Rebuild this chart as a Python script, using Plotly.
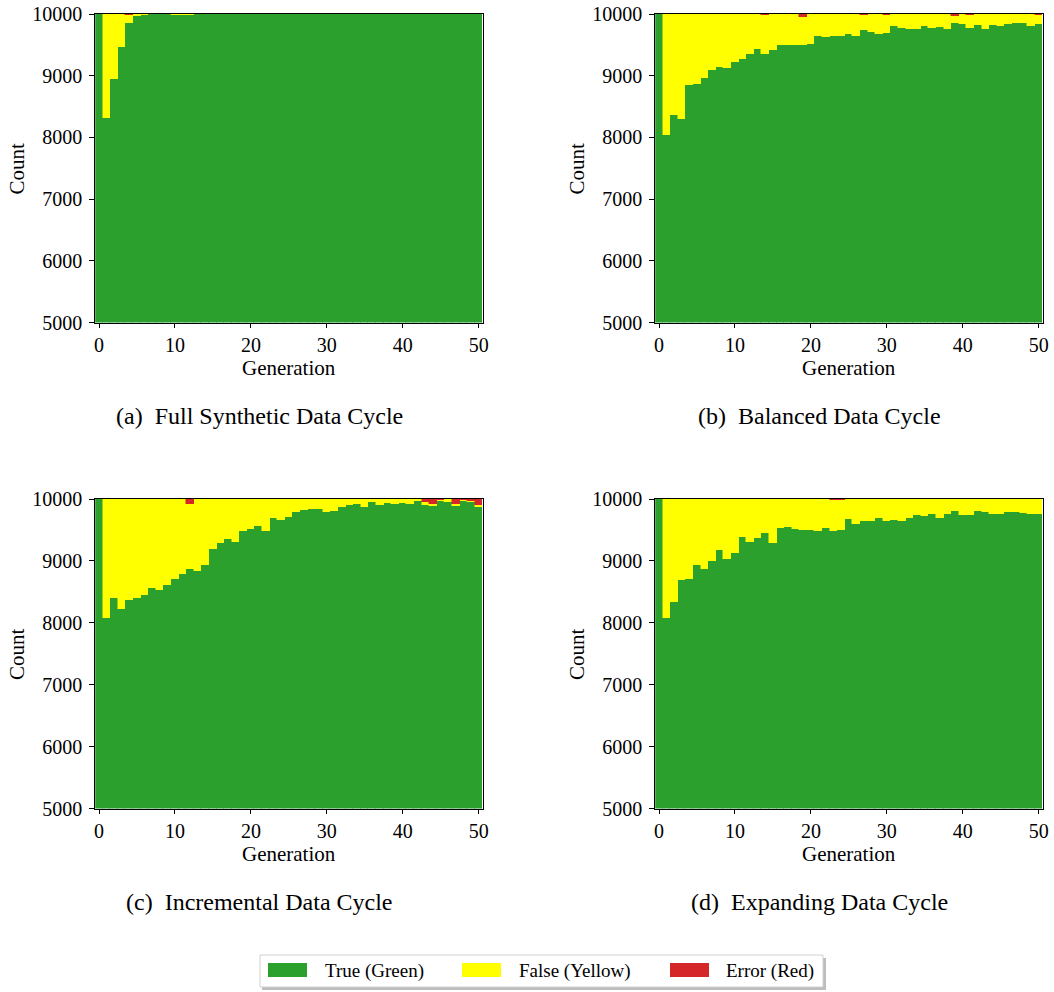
import plotly.graph_objects as go

generations = list(range(51))

# (a) Full Synthetic Data Cycle
a_true = [10000, 8320, 8950, 9465, 9855, 9970, 9985, 10000, 10000, 10000, 9986, 9986, 9986,
          10000, 10000, 10000, 10000, 10000, 10000, 10000, 10000, 10000, 10000, 10000, 10000,
          10000, 10000, 10000, 10000, 10000, 10000, 10000, 10000, 10000, 10000, 10000, 10000,
          10000, 10000, 10000, 10000, 10000, 10000, 10000, 10000, 10000, 10000, 10000, 10000,
          10000, 10000]
a_false = [0, 1680, 1050, 535, 125, 30, 10, 0, 0, 0, 8, 8, 8,
           0, 0, 0, 0, 0, 0, 0, 0, 0, 0, 0, 0, 0, 0, 0, 0, 0, 0, 0, 0, 0, 0, 0, 0, 0, 0,
           0, 0, 0, 0, 0, 0, 0, 0, 0, 0, 0, 0]
a_error = [0, 0, 0, 0, 20, 0, 5, 0, 0, 0, 6, 6, 6,
           0, 0, 0, 0, 0, 0, 0, 0, 0, 0, 0, 0, 0, 0, 0, 0, 0, 0, 0, 0, 0, 0, 0, 0, 0, 0,
           0, 0, 0, 0, 0, 0, 0, 0, 0, 0, 0, 0]

# (b) Balanced Data Cycle
b_true = [10000, 8047, 8370, 8305, 8854, 8870, 8967, 9096, 9145, 9128, 9225, 9274, 9354,
          9435, 9354, 9419, 9500, 9500, 9500, 9500, 9516, 9645, 9629, 9645, 9645, 9677,
          9645, 9742, 9710, 9677, 9693, 9806, 9774, 9758, 9758, 9806, 9774, 9790, 9758,
          9855, 9839, 9774, 9822, 9758, 9822, 9806, 9839, 9855, 9855, 9806, 9839]
b_false = [0, 1953, 1630, 1695, 1146, 1130, 1033, 904, 855, 872, 775, 726, 646,
           565, 631, 581, 500, 500, 500, 455, 484, 355, 371, 355, 355, 323,
           355, 243, 290, 323, 292, 194, 226, 242, 242, 194, 226, 210, 242,
           110, 161, 206, 178, 242, 178, 194, 161, 145, 145, 194, 146]
b_error = [0, 0, 0, 0, 0, 0, 0, 0, 0, 0, 0, 0, 0,
           0, 15, 0, 0, 0, 0, 45, 0, 0, 0, 0, 0, 0,
           0, 15, 0, 0, 15, 0, 0, 0, 0, 0, 0, 0, 0,
           35, 0, 20, 0, 0, 0, 0, 0, 0, 0, 0, 15]

# (c) Incremental Data Cycle
c_true = [10000, 8074, 8395, 8218, 8363, 8395, 8443, 8555, 8523, 8604, 8700, 8796, 8877,
          8844, 8941, 9198, 9294, 9358, 9310, 9486, 9518, 9567, 9486, 9695, 9663, 9711,
          9791, 9823, 9839, 9839, 9791, 9807, 9872, 9904, 9920, 9872, 9952, 9904, 9936,
          9920, 9936, 9920, 9968, 9904, 9888, 9968, 9952, 9888, 9968, 9952, 9872]
c_false = [0, 1926, 1605, 1782, 1637, 1605, 1557, 1445, 1477, 1396, 1300, 1204, 1043,
           1156, 1059, 802, 706, 642, 690, 514, 482, 433, 514, 305, 337, 289,
           209, 177, 161, 161, 209, 193, 128, 96, 80, 128, 48, 96, 64,
           80, 64, 80, 32, 46, 32, 22, 48, 32, 22, 18, 33]
c_error = [0, 0, 0, 0, 0, 0, 0, 0, 0, 0, 0, 0, 80,
           0, 0, 0, 0, 0, 0, 0, 0, 0, 0, 0, 0, 0,
           0, 0, 0, 0, 0, 0, 0, 0, 0, 0, 0, 0, 0,
           0, 0, 0, 0, 50, 80, 10, 0, 80, 10, 30, 95]

# (d) Expanding Data Cycle
d_true = [10000, 8074, 8331, 8684, 8700, 8941, 8877, 9005, 9181, 9037, 9133, 9390, 9310,
          9374, 9454, 9294, 9535, 9551, 9518, 9502, 9502, 9486, 9535, 9486, 9502, 9679,
          9599, 9647, 9647, 9695, 9647, 9663, 9647, 9695, 9743, 9727, 9759, 9695, 9759,
          9807, 9743, 9743, 9807, 9791, 9759, 9759, 9791, 9791, 9775, 9759, 9759]
d_false = [0, 1926, 1669, 1316, 1300, 1059, 1123, 995, 819, 963, 867, 610, 690,
           626, 546, 706, 465, 449, 482, 498, 498, 514, 465, 499, 483, 321,
           401, 353, 353, 305, 353, 337, 353, 305, 257, 273, 241, 305, 241,
           193, 257, 257, 193, 209, 241, 241, 209, 209, 225, 241, 241]
d_error = [0, 0, 0, 0, 0, 0, 0, 0, 0, 0, 0, 0, 0,
           0, 0, 0, 0, 0, 0, 0, 0, 0, 0, 15, 15, 0,
           0, 0, 0, 0, 0, 0, 0, 0, 0, 0, 0, 0, 0,
           0, 0, 0, 0, 0, 0, 0, 0, 0, 0, 0, 0]

captions = ["(a)  Full Synthetic Data Cycle", "(b)  Balanced Data Cycle",
            "(c)  Incremental Data Cycle", "(d)  Expanding Data Cycle"]
series_names = ["True (Green)", "False (Yellow)", "Error (Red)"]
colors = ["#2ca02c", "#ffff00", "#d62728"]
y_ticks = [5000, 6000, 7000, 8000, 9000, 10000]
x_ticks = [0, 10, 20, 30, 40, 50]

W, H = 1054, 992
FONT = "Liberation Serif, Times New Roman, serif"

panels = [
    (a_true, a_false, a_error),
    (b_true, b_false, b_error),
    (c_true, c_false, c_error),
    (d_true, d_false, d_error),
]

# pixel layout of each panel: (left, right, top, bottom)
boxes = [(95.2, 482.5, 14, 322.5), (655.2, 1042.5, 14, 322.5),
         (95.2, 482.5, 499, 808.5), (655.2, 1042.5, 499, 808.5)]

def px(x):
    return x / W

def py(y):
    return 1 - y / H

fig = go.Figure()
layout = dict(
    width=W, height=H, autosize=False,
    margin=dict(l=0, r=0, t=0, b=0, pad=0, autoexpand=False),
    paper_bgcolor="white", plot_bgcolor="white",
    barmode="stack", bargap=0, showlegend=False,
    font=dict(family=FONT, size=20, color="black"),
)
annotations = []
shapes = []

for i, (vals, box) in enumerate(zip(panels, boxes)):
    n = "" if i == 0 else str(i + 1)
    for v, name, col in zip(vals, series_names, colors):
        fig.add_trace(go.Bar(
            x=generations, y=v, name=name, width=1,
            marker=dict(color=col, line=dict(color=col, width=0.5)),
            xaxis="x" + n, yaxis="y" + n,
        ))
    l, r, t, b = box
    layout["xaxis" + n] = dict(
        domain=[px(l), px(r)], range=[-0.5, 50.5], anchor="y" + n, automargin=False,
        tickvals=x_ticks, ticks="outside", ticklen=4, tickwidth=1, tickcolor="black",
        showline=True, linecolor="black", linewidth=1, mirror=True,
        showgrid=False, zeroline=False, tickfont=dict(size=20), tickformat="d",
    )
    layout["yaxis" + n] = dict(
        domain=[py(b), py(t)], range=[5000, 10000], anchor="x" + n, automargin=False,
        tickvals=y_ticks, ticks="outside", ticklen=5, tickwidth=1, tickcolor="black",
        showline=True, linecolor="black", linewidth=1, mirror=True,
        showgrid=False, zeroline=False, tickfont=dict(size=20), tickformat="d",
        ticklabelstandoff=3,
    )
    annotations.append(dict(text="Generation", x=px((l + r) / 2), y=py(b + 45),
                            xref="paper", yref="paper", showarrow=False,
                            font=dict(size=21), xanchor="center", yanchor="middle"))
    annotations.append(dict(text="Count", x=px(l - 78), y=py((t + b) / 2),
                            xref="paper", yref="paper", showarrow=False, textangle=-90,
                            font=dict(size=21), xanchor="center", yanchor="middle"))
    annotations.append(dict(text=captions[i], x=px(l - 35 + (r - l) / 2 + 6), y=py(b + 93),
                            xref="paper", yref="paper", showarrow=False,
                            font=dict(size=24), xanchor="center", yanchor="middle"))

# legend box (drawn)
shapes.append(dict(type="rect", xref="paper", yref="paper",
                   x0=px(262), x1=px(826), y0=py(990), y1=py(958),
                   fillcolor="#bdbdbd", line=dict(width=0), layer="above"))
shapes.append(dict(type="rect", xref="paper", yref="paper",
                   x0=px(260), x1=px(823), y0=py(987), y1=py(955),
                   fillcolor="white", line=dict(color="#d0d0d0", width=1), layer="above"))
legend_swatch_x = [268, 462, 670]
legend_text_x = [323, 517, 724]
for sx, tx, name, col in zip(legend_swatch_x, legend_text_x, series_names, colors):
    shapes.append(dict(type="rect", xref="paper", yref="paper",
                       x0=px(sx), x1=px(sx + 39), y0=py(977), y1=py(963),
                       fillcolor=col, line=dict(width=0), layer="above"))
    annotations.append(dict(text=name, x=px(tx), y=py(971), xref="paper", yref="paper",
                            showarrow=False, xanchor="left", yanchor="middle",
                            font=dict(size=19)))

layout["annotations"] = annotations
layout["shapes"] = shapes
fig.update_layout(**layout)
fig.write_html(
    "out.html",
    config={"displayModeBar": False},
    post_script="document.body.style.margin='0';document.body.style.padding='0';"
                "document.body.style.overflow='hidden';",
)
